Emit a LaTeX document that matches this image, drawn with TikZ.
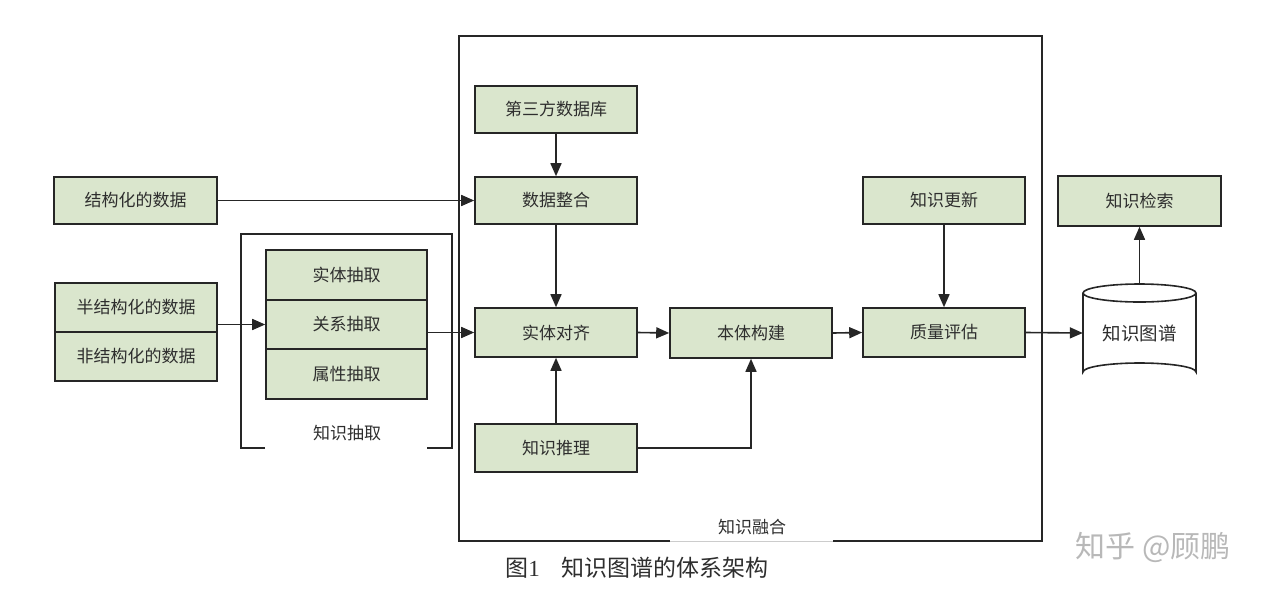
\documentclass[tikz,border=0pt]{standalone}
\usepackage{fontspec}
\setmainfont{Liberation Serif}
\newfontfamily\cjk{Noto Sans CJK SC}
\usetikzlibrary{arrows.meta,shapes.geometric}
\definecolor{boxfill}{HTML}{DAE6CD}
\definecolor{txt}{HTML}{2E2E2E}
\tikzset{
  box/.style={draw=black!85,line width=1.6pt,fill=boxfill,minimum width=162pt,minimum height=48pt,inner sep=0pt,font=\cjk\fontsize{17}{19}\selectfont,text=txt},
  arr/.style={line width=1.6pt,draw=black!85,-{Triangle[length=13pt,width=11pt]}},
  frame/.style={line width=1.6pt,draw=black!85},
  lbl/.style={font=\cjk\fontsize{17}{19}\selectfont,text=txt,inner sep=0pt}
}
\begin{document}
\begin{tikzpicture}[x=1pt,y=-1pt]
\useasboundingbox (0,0) rectangle (1287,598);
% frames
\draw[frame] (670,541) -- (459,541) -- (459,36) -- (1042,36) -- (1042,541) -- (833,541);
\draw[line width=0.8pt,black!20] (670,541) -- (833,541);
\draw[frame] (265,448) -- (241,448) -- (241,234) -- (452,234) -- (452,448) -- (427,448);
\node[lbl] (fuse) at (752,527) {知识融合};
\node[lbl] (extr) at (347,433) {知识抽取};
% boxes
\node[box,minimum height=47pt] (third) at (556,109.5) {第三方数据库};
\node[box,minimum height=47pt] (integ) at (556,200.5) {数据整合};
\node[box,minimum height=49pt] (align) at (556,332.5) {实体对齐};
\node[box] (reason) at (556,448) {知识推理};
\node[box,minimum height=50pt] (onto) at (751,333) {本体构建};
\node[box,minimum height=49pt] (quality) at (944,332.5) {质量评估};
\node[box,minimum height=47pt] (update) at (944,200.5) {知识更新};
\node[box,minimum width=163pt,minimum height=50pt] (retr) at (1139.5,201) {知识检索};
\node[box,minimum width=163pt,minimum height=47pt] (struct) at (135.5,200.5) {结构化的数据};
\node[box,minimum height=49pt] (semi) at (136,307.5) {半结构化的数据};
\node[box,minimum height=49pt] (non) at (136,356.5) {非结构化的数据};
\node[box,minimum width=161pt,minimum height=50pt] (ent) at (346.5,275) {实体抽取};
\node[box,minimum width=161pt,minimum height=49pt] (rel) at (346.5,324.5) {关系抽取};
\node[box,minimum width=161pt,minimum height=50pt] (attr) at (346.5,374) {属性抽取};
% cylinder
\draw[line width=1.6pt,black!85,fill=white] (1083,293) -- (1083,372) arc[start angle=180,end angle=360,x radius=56.5,y radius=9] -- (1196,293);
\draw[line width=1.6pt,black!85,fill=white] (1139.5,293) ellipse[x radius=56.5,y radius=9];
\node[lbl,font=\cjk\fontsize{18.5}{20}\selectfont,minimum width=113pt,minimum height=96pt] (kg) at (1139.5,333) {知识图谱};
\coordinate (kgtop) at (1139.5,284);
% connectors
\draw[arr] (struct.east) -- (integ.west);
\draw[arr] (semi.east |- rel.west) -- (rel.west);
\draw[arr] (rel.east |- align.west) -- (align.west);
\draw[arr] (third.south) -- (integ.north);
\draw[arr] (integ.south) -- (align.north);
\draw[arr] (reason.north) -- (align.south);
\draw[arr] (reason.east) -| (onto.south);
\draw[arr] (align.east) -- (onto.west);
\draw[arr] (onto.east) -- (quality.west);
\draw[arr] (update.south) -- (quality.north);
\draw[arr] (quality.east) -- (kg.west);
\draw[arr] (kgtop) -- (retr.south);
% caption
\node[inner sep=0pt,text=txt,font=\fontsize{23}{25}\selectfont] (cap) at (637,568) {{\cjk 图}1\hspace{22pt}{\cjk 知识图谱的体系架构}};
\node[inner sep=0pt,text=black!28,font=\cjk\fontsize{30}{32}\selectfont] (wm) at (1153,547) {知乎 @顾鹏};
\end{tikzpicture}
\end{document}
